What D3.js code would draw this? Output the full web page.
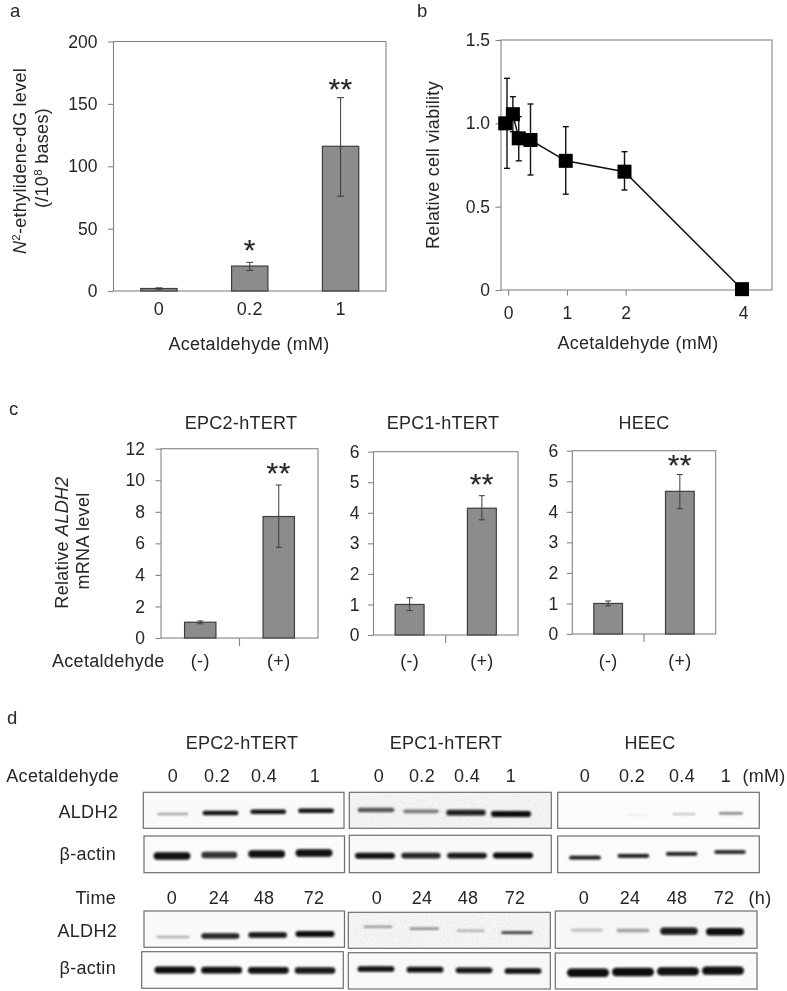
<!DOCTYPE html>
<html><head><meta charset="utf-8">
<script src="https://cdn.jsdelivr.net/npm/d3@7"></script>
<style>
html,body{margin:0;padding:0;background:#fff}
svg{display:block;filter:blur(0.35px)}
text{font-family:"Liberation Sans",Arial,sans-serif;fill:#262626}
</style></head><body>
<svg id="c" width="787" height="991"></svg>
<script>
// ---------- panel a ----------
const aDoses = ["0","0.2","1"];
const aValues = [2,20,116];
const aErrLow = [1.5,16.5,76];
const aErrHigh = [2.5,23,155];
const aStars = ["","*","**"];
const aTicks = [0,50,100,150,200];
// ---------- panel b ----------
const bDoses = [0,0.1,0.2,0.4,1,2,4];
const bViability = [1.0,1.055,0.91,0.90,0.775,0.71,0.005];
const bErrLow = [0.73,0.95,0.775,0.69,0.575,0.60,0.005];
const bErrHigh = [1.27,1.16,1.04,1.116,0.98,0.83,0.005];
const bXTicks = [0,1,2,4];
const bYTicks = [0,0.5,1,1.5];
// ---------- panel c ----------
const cCells = ["EPC2-hTERT","EPC1-hTERT","HEEC"];
const cGroups = ["(-)","(+)"];
const cValues = [[1,7.7],[1,4.15],[1,4.67]];
const cErrLow = [[0.9,5.75],[0.8,3.77],[0.92,4.1]];
const cErrHigh = [[1.08,9.7],[1.22,4.56],[1.08,5.22]];
const cStars = [["","**"],["","**"],["","**"]];
const cTicks = [[0,2,4,6,8,10,12],[0,1,2,3,4,5,6],[0,1,2,3,4,5,6]];
// ---------- panel d : band intensity, per lane ----------
const dDoseLabels = ["0","0.2","0.4","1"];
const dTimeLabels = ["0","24","48","72"];
const dDoseAldh2 = [[0.35,0.98,0.98,0.98],[0.65,0.5,0.92,1],[0,0.09,0.28,0.55]];
const dDoseActin = [[0.98,0.85,0.98,0.98],[0.98,0.9,0.95,1],[0.96,0.96,0.94,0.94]];
const dTimeAldh2 = [[0.3,0.9,0.96,1],[0.45,0.48,0.34,0.78],[0.25,0.36,0.94,1]];
const dTimeActin = [[1,0.99,0.98,0.95],[0.98,0.98,0.96,0.98],[1,1,0.99,0.99]];

// ---------- layout (pixels, not data) ----------
const svg = d3.select("#c");
const INK = "#262626", FRAME = "#858585", BAR = "#8c8c8c", BAREDGE = "#3e3e3e", ERR = "#3c3c3c";
const FS = 18, TICKFS = 17.5, LS = 0.3;

function label(x,y,str,anchor="middle",opts={}){
  return svg.append("text").attr("x",x).attr("y",y).attr("text-anchor",anchor)
    .style("font-size",(opts.size||FS)+"px").style("letter-spacing",(opts.ls===undefined?LS:opts.ls)+"px").text(str);
}
function vlabel(x,y,parts){
  const t = svg.append("text").attr("transform",`translate(${x},${y}) rotate(-90)`).attr("text-anchor","middle")
    .style("font-size",FS+"px").style("letter-spacing",LS+"px");
  parts.forEach(p=>{
    const s=t.append("tspan").text(p.t);
    if(p.i) s.style("font-style","italic");
    if(p.sup) s.style("font-size","11.5px").attr("dy",-6);
    if(p.after) s.attr("dy",6);
  });
}
function frame(x0,x1,y0,y1){
  svg.append("rect").attr("x",x0).attr("y",y0).attr("width",x1-x0).attr("height",y1-y0)
    .attr("fill","none").attr("stroke",FRAME).attr("stroke-width",1.1);
}
function styleAxis(g){
  g.select(".domain").remove();
  g.selectAll("line").attr("stroke",FRAME).attr("stroke-width",1.1);
  g.selectAll("text").style("font-size",TICKFS+"px").style("font-family",'"Liberation Sans"').attr("fill",INK);
}
function yAxis(x,scale,ticks,pad,fmt){
  const a=d3.axisLeft(scale).tickValues(ticks).tickSize(5.5).tickPadding(pad).tickFormat(fmt||(d=>d));
  svg.append("g").attr("transform",`translate(${x},0)`).call(a).call(styleAxis);
}
function bars(x,y,cats,vals,lo,hi,stars,capW,gaps){
  const base=y.range()[0];
  cats.forEach((c,i)=>{
    const cx=x(c)+x.bandwidth()/2;
    svg.append("rect").attr("x",x(c)).attr("y",y(vals[i])).attr("width",x.bandwidth())
      .attr("height",base-y(vals[i])).attr("fill",BAR).attr("stroke",BAREDGE).attr("stroke-width",1.2);
    svg.append("line").attr("x1",cx).attr("x2",cx).attr("y1",y(lo[i])).attr("y2",y(hi[i])).attr("stroke",ERR).attr("stroke-width",1);
    [lo[i],hi[i]].forEach(v=>svg.append("line").attr("x1",cx-capW).attr("x2",cx+capW).attr("y1",y(v)).attr("y2",y(v)).attr("stroke",ERR).attr("stroke-width",1));
    if(stars[i]) svg.append("text").attr("x",cx).attr("y",y(hi[i])-gaps[i]).attr("text-anchor","middle")
      .style("font-size","30px").style("letter-spacing","0.5px").style("stroke","#262626").style("stroke-width","0.15px").text(stars[i]);
  });
}

// panel letters
label(10,17,"a","start",{size:18.5,ls:0});
label(417,17,"b","start",{size:18.5,ls:0});
label(9,415,"c","start",{size:18.5,ls:0});
label(7,724,"d","start",{size:18.5,ls:0});

// ===== panel a =====
{
  const x=d3.scaleBand().domain(aDoses).range([113.5,386]).paddingInner(0.6).paddingOuter(0.3);
  const y=d3.scaleLinear().domain([0,200]).range([291,41.5]);
  frame(113.5,386,41.5,291);
  yAxis(113.5,y,aTicks,10.5);
  bars(x,y,aDoses,aValues,aErrLow,aErrHigh,aStars,3.5,[0,2,-1]);
  aDoses.forEach(d=>label(x(d)+x.bandwidth()/2,315,d));
  label(249,350,"Acetaldehyde (mM)");
  vlabel(26,161,[{t:"N",i:1},{t:"2",sup:1},{t:"-ethylidene-dG level",after:1}]);
  vlabel(48,158,[{t:"(/10"},{t:"8",sup:1},{t:" bases)",after:1}]);
}
// ===== panel b =====
{
  const x=d3.scaleLinear().domain([0,4]).range([507,742]);
  const y=d3.scaleLinear().domain([0,1.5]).range([290,40]);
  frame(501,772,40,290);
  yAxis(501,y,bYTicks,5.5,d=>d===0?"0":d.toFixed(1));
  const ax=d3.axisBottom(x).tickValues(bXTicks).tickSize(5.5).tickPadding(11).tickFormat(d=>d);
  svg.append("g").attr("transform","translate(1.2,290)").call(ax).call(styleAxis);
  svg.append("path").datum(bDoses.map((d,i)=>[d,bViability[i]]))
    .attr("d",d3.line().x(d=>x(d[0])).y(d=>y(d[1]))).attr("fill","none").attr("stroke","#111").attr("stroke-width",1.5);
  bDoses.forEach((d,i)=>{
    if(bErrHigh[i]===bErrLow[i]) return;
    const cx=x(d);
    svg.append("line").attr("x1",cx).attr("x2",cx).attr("y1",y(bErrLow[i])).attr("y2",y(bErrHigh[i])).attr("stroke","#111").attr("stroke-width",1.4);
    [bErrLow[i],bErrHigh[i]].forEach(v=>svg.append("line").attr("x1",cx-3).attr("x2",cx+3).attr("y1",y(v)).attr("y2",y(v)).attr("stroke","#111").attr("stroke-width",1.4));
  });
  const S=14;
  bDoses.forEach((d,i)=>svg.append("rect").attr("x",x(d)-S/2-(i===0?1.8:0)).attr("y",y(bViability[i])-S/2).attr("width",S).attr("height",S).attr("fill","#000"));
  label(638,349,"Acetaldehyde (mM)");
  vlabel(439,165,[{t:"Relative cell viability"}]);
}
// ===== panel c =====
const cBoxes=[{x0:161,x1:318,y0:448.7,y1:638,pad:10.5,top:12,tx:241,gap:1.5},
              {x0:373.5,x1:518,y0:451.7,y1:635,pad:8.5,top:6,tx:443,gap:1.5},
              {x0:572.3,x1:715.7,y0:450.7,y1:634,pad:8.5,top:6,tx:644,gap:0}];
cCells.forEach((cell,k)=>{
  const b=cBoxes[k];
  const x=d3.scaleBand().domain(cGroups).range([b.x0,b.x1]).paddingInner(0.6).paddingOuter(0.3);
  const y=d3.scaleLinear().domain([0,b.top]).range([b.y1,b.y0]);
  frame(b.x0,b.x1,b.y0,b.y1);
  yAxis(b.x0,y,cTicks[k],b.pad);
  bars(x,y,cGroups,cValues[k],cErrLow[k],cErrHigh[k],cStars[k],3,[0,b.gap]);
  const mid=(b.x0+b.x1)/2;
  svg.append("line").attr("x1",mid).attr("x2",mid).attr("y1",b.y1).attr("y2",b.y1+8).attr("stroke",FRAME).attr("stroke-width",1.1);
  cGroups.forEach(g=>label(x(g)+x.bandwidth()/2,667,g));
  label(b.tx,428.5,cell);
});
label(52,667,"Acetaldehyde","start");
vlabel(68,542.5,[{t:"Relative "},{t:"ALDH2",i:1}]);
vlabel(89,541,[{t:"mRNA level"}]);

// ===== panel d =====
const defs=svg.append("defs");
defs.append("filter").attr("id","soft").attr("x","-20%").attr("y","-150%").attr("width","140%").attr("height","400%")
  .append("feGaussianBlur").attr("stdDeviation",1);
const nz=defs.append("filter").attr("id","grain").attr("x","0").attr("y","0").attr("width","100%").attr("height","100%");
nz.append("feTurbulence").attr("type","fractalNoise").attr("baseFrequency",0.55).attr("numOctaves",2).attr("seed",4);
nz.append("feColorMatrix").attr("type","matrix").attr("values","0 0 0 0 0.4  0 0 0 0 0.4  0 0 0 0 0.4  0.9 0.9 0 0 -0.75");

// one blot: box, lanes (first & last centres), band y at first & last lane, band width, max thickness, background, grain
const blots=[
 {lv:dDoseAldh2[0],x0:143.3,x1:344,y0:792.3,y1:828.3,l0:172.7,l1:316,b0:814,b1:810.7,w:36,th:4.6,bg:"#fafafa"},
 {lv:dDoseAldh2[1],x0:349.3,x1:551.3,y0:792.3,y1:828.3,l0:376,l1:511,b0:810,b1:814,w:40,th:6,bg:"#f5f5f5",grain:1},
 {lv:dDoseAldh2[2],x0:557.7,x1:759.3,y0:792.3,y1:828.3,l0:590,l1:731,b0:816,b1:813.3,w:27,th:3,bg:"#fcfcfc"},
 {lv:dDoseActin[0],x0:144,x1:344.5,y0:836,y1:872.7,l0:172,l1:314,b0:856,b1:853,w:37,th:7.4,bg:"#fbfbfb"},
 {lv:dDoseActin[1],x0:349.3,x1:551.3,y0:835.3,y1:872.7,l0:375,l1:513,b0:855.7,b1:855.5,w:40,th:6,bg:"#f9f9f9"},
 {lv:dDoseActin[2],x0:557.7,x1:759.3,y0:836,y1:872.7,l0:585,l1:730,b0:857.7,b1:852,w:32,th:3.8,bg:"#fbfbfb"},
 {lv:dTimeAldh2[0],x0:144,x1:344.5,y0:911,y1:947.3,l0:173,l1:315,b0:937,b1:934,w:39,th:5.8,bg:"#f9f9f9"},
 {lv:dTimeAldh2[1],x0:348.3,x1:550.3,y0:912.3,y1:948.3,l0:378,l1:517,b0:926.7,b1:932.7,w:33,th:3.2,bg:"#f6f6f6",grain:1},
 {lv:dTimeAldh2[2],x0:555.3,x1:757,y0:911,y1:948.3,l0:587,l1:725,b0:930,b1:931.7,w:38,th:7.4,bg:"#f6f6f6"},
 {lv:dTimeActin[0],x0:141.7,x1:343.3,y0:951.7,y1:988.3,l0:175,l1:315,b0:970,b1:970.5,w:41,th:6.8,bg:"#fbfbfb"},
 {lv:dTimeActin[1],x0:348.3,x1:550.3,y0:952.7,y1:989,l0:376,l1:523,b0:969,b1:971,w:37,th:5.8,bg:"#f8f8f8"},
 {lv:dTimeActin[2],x0:555.3,x1:757,y0:953,y1:989,l0:588,l1:723,b0:972.7,b1:970.7,w:42,th:8.4,bg:"#fafafa"}
];
const lanes=[0,1,2,3];
blots.forEach(b=>{
  const bx=d3.scalePoint().domain(lanes).range([b.l0,b.l1]);
  const by=d3.scaleLinear().domain([0,3]).range([b.b0,b.b1]);
  const thick=d3.scaleLinear().domain([0,1]).range([1.2,b.th]);
  const wide=d3.scaleLinear().domain([0,1]).range([0.78*b.w,b.w]);
  svg.append("rect").attr("x",b.x0).attr("y",b.y0).attr("width",b.x1-b.x0).attr("height",b.y1-b.y0).attr("fill",b.bg);
  if(b.grain) svg.append("rect").attr("x",b.x0).attr("y",b.y0).attr("width",b.x1-b.x0).attr("height",b.y1-b.y0).attr("filter","url(#grain)").attr("opacity",0.28);
  const g=svg.append("g").attr("filter","url(#soft)");
  lanes.forEach(i=>{
    const lv=b.lv[i]; if(!lv) return;
    const w=wide(lv),h=thick(lv);
    g.append("rect").attr("x",bx(i)-w/2).attr("y",by(i)-h/2).attr("width",w).attr("height",h)
      .attr("rx",h/2).attr("ry",h/2).attr("fill","#080808").attr("opacity",lv);
  });
  svg.append("rect").attr("x",b.x0).attr("y",b.y0).attr("width",b.x1-b.x0).attr("height",b.y1-b.y0)
    .attr("fill","none").attr("stroke","#6e6e6e").attr("stroke-width",1.2);
});
// panel d texts
const dTitleX=[242,446,650];
cCells.forEach((c,i)=>label(dTitleX[i],749,c));
const doseX=[[173,217,264,315],[379,422,467,511],[585,632,682,726]];
const timeX=[[172,219,264,314],[377,422,468,515],[584,630,677,724]];
doseX.forEach(r=>r.forEach((xx,i)=>label(xx,782,dDoseLabels[i])));
timeX.forEach(r=>r.forEach((xx,i)=>label(xx,904,dTimeLabels[i])));
label(764,782,"(mM)"); label(760,904,"(h)");
label(119,781.5,"Acetaldehyde","end");
label(116,904,"Time","end");
label(118,818,"ALDH2","end");
label(116,860,"β-actin","end");
label(117,937,"ALDH2","end");
label(116,974,"β-actin","end");
</script>
</body></html>
